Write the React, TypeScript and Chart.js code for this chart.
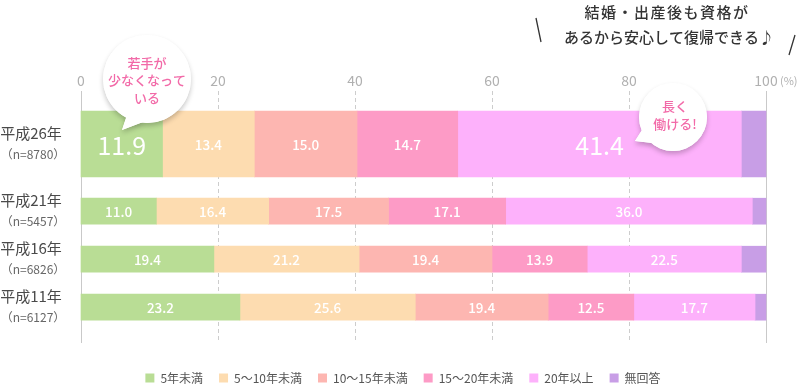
import React, { useEffect, useRef } from 'react';
import { Chart, registerables } from 'chart.js';

Chart.register(...registerables);

const FONT = "'Noto Sans CJK JP', 'Noto Sans', sans-serif";

// ---- data ----
const ROW_LABELS = ['平成26年', '平成21年', '平成16年', '平成11年'];
const ROW_COUNTS = ['（n=8780）', '（n=5457）', '（n=6826）', '（n=6127）'];
// vertical slot of each row on the (linear) row axis
const ROW_SLOTS = [0, 2.8, 4.8, 6.8];

const SERIES_LABELS = ['5年未満', '5〜10年未満', '10〜15年未満', '15〜20年未満', '20年以上', '無回答'];
const SERIES_COLORS = ['#b9dd95', '#fddcb0', '#fdb6b1', '#fd9bc6', '#fdb1fb', '#c89ee6'];

const UNDER_5 = [11.9, 11.0, 19.4, 23.2];
const FROM_5_TO_10 = [13.4, 16.4, 21.2, 25.6];
const FROM_10_TO_15 = [15.0, 17.5, 19.4, 19.4];
const FROM_15_TO_20 = [14.7, 17.1, 13.9, 12.5];
const OVER_20 = [41.4, 36.0, 22.5, 17.7];
const NO_ANSWER = [3.6, 2.0, 3.6, 1.6];

const X_MIN = 0;
const X_MAX = 100;
const X_STEP = 20;

const HEADLINE = ['結婚・出産後も資格が', 'あるから安心して復帰できる♪'];
const BUBBLE_YOUNG = ['若手が', '少なくなって', 'いる'];
const BUBBLE_LONG = ['長く', '働ける!'];

const SERIES_VALUES = [UNDER_5, FROM_5_TO_10, FROM_10_TO_15, FROM_15_TO_20, OVER_20, NO_ANSWER];

// ---- layout constants ----
const GRID_TOP = 91;
const GRID_BOTTOM = 343;
const PINK_TEXT = '#f26aa8';

function drawBubble(ctx: CanvasRenderingContext2D, cx: number, cy: number, r: number, tail: number[][]) {
  const shape = () => {
    ctx.beginPath();
    ctx.arc(cx, cy, r, 0, Math.PI * 2);
    ctx.fill();
    ctx.beginPath();
    ctx.moveTo(tail[0][0], tail[0][1]);
    ctx.lineTo(tail[1][0], tail[1][1]);
    ctx.lineTo(tail[2][0], tail[2][1]);
    ctx.closePath();
    ctx.fill();
  };
  ctx.save();
  ctx.shadowColor = 'rgba(0,0,0,0.22)';
  ctx.shadowBlur = 5;
  ctx.shadowOffsetY = 3;
  ctx.fillStyle = '#ffffff';
  shape();
  ctx.restore();
  ctx.save();
  ctx.fillStyle = '#ffffff';
  shape();
  ctx.restore();
}

const gridPlugin = {
  id: 'customGrid',
  beforeDatasetsDraw(chart: any) {
    const { ctx } = chart;
    const xs = chart.scales.x;
    ctx.save();
    xs.ticks.forEach((t: any) => {
      const p = Math.floor(xs.getPixelForValue(t.value)) + 0.5;
      const solid = t.value === X_MIN || t.value === X_MAX;
      ctx.strokeStyle = solid ? '#c9c9c9' : '#cdcdcd';
      ctx.lineWidth = 1;
      ctx.setLineDash(solid ? [] : [4, 3]);
      ctx.beginPath();
      ctx.moveTo(p, GRID_TOP);
      ctx.lineTo(p, GRID_BOTTOM);
      ctx.stroke();
    });
    ctx.restore();
  },
};

const labelPlugin = {
  id: 'valueLabels',
  afterDatasetsDraw(chart: any) {
    const { ctx } = chart;
    ctx.save();
    ctx.fillStyle = '#ffffff';
    ctx.textAlign = 'center';
    ctx.textBaseline = 'middle';
    chart.data.datasets.forEach((ds: any, di: number) => {
      const s = ds.seriesIndex;
      if (s === SERIES_LABELS.length - 1) return;
      const meta = chart.getDatasetMeta(di);
      meta.data.forEach((el: any, i: number) => {
        const v = ds.data[i].x;
        const big = ds.firstRow && (s === 0 || s === 4);
        ctx.font = big ? `400 25px ${FONT}` : `500 13.5px ${FONT}`;
        ctx.fillText(v.toFixed(1), (el.x + el.base) / 2, el.y + 1);
      });
    });
    ctx.restore();
  },
};

const decorPlugin = {
  id: 'decor',
  afterDraw(chart: any) {
    const { ctx } = chart;
    const xs = chart.scales.x;
    const ys = chart.scales.y;
    ctx.save();

    // row labels
    ctx.textAlign = 'center';
    ctx.textBaseline = 'middle';
    ROW_LABELS.forEach((lab, i) => {
      const y = ys.getPixelForValue(ROW_SLOTS[i]);
      ctx.fillStyle = '#4a4a4a';
      ctx.font = `400 15px ${FONT}`;
      ctx.fillText(lab, 31, y - 10.5);
      ctx.fillStyle = '#666666';
      ctx.font = `400 12px ${FONT}`;
      ctx.fillText(ROW_COUNTS[i], 33, y + 10.5);
    });

    // percent unit
    ctx.fillStyle = '#b0b0b0';
    ctx.font = `400 11px ${FONT}`;
    ctx.textAlign = 'left';
    ctx.fillText('(%)', xs.getPixelForValue(X_MAX) + 14, 81);

    // headline
    ctx.fillStyle = '#333333';
    ctx.textAlign = 'center';
    ctx.font = `500 15px ${FONT}`;
    (ctx as any).letterSpacing = '1.5px';
    ctx.fillText(HEADLINE[0], 667, 12);
    (ctx as any).letterSpacing = '0px';
    ctx.font = `500 15px ${FONT}`;
    ctx.fillText(HEADLINE[1], 669, 37);
    ctx.strokeStyle = '#333333';
    ctx.lineWidth = 1.3;
    ctx.beginPath();
    ctx.moveTo(536, 18);
    ctx.lineTo(541, 42);
    ctx.moveTo(795, 35);
    ctx.lineTo(789, 55);
    ctx.stroke();

    // bubbles
    drawBubble(ctx, 147, 79, 44, [[127, 115], [122, 130], [143, 122]]);
    drawBubble(ctx, 673, 117, 34, [[642, 130], [635, 141], [652, 143]]);
    ctx.fillStyle = PINK_TEXT;
    ctx.font = `500 13px ${FONT}`;
    ctx.textAlign = 'center';
    BUBBLE_YOUNG.forEach((t, i) => ctx.fillText(t, 147, 63 + i * 17.5));
    BUBBLE_LONG.forEach((t, i) => ctx.fillText(t, 675, 106 + i * 18));

    ctx.restore();
  },
};

export default function App() {
  const ref = useRef<HTMLCanvasElement>(null);

  useEffect(() => {
    if (!ref.current) return;
    Chart.defaults.font.family = FONT;

    const datasets: any[] = [];
    SERIES_VALUES.forEach((vals, s) => {
      datasets.push({
        label: SERIES_LABELS[s],
        data: [{ x: vals[0], y: ROW_SLOTS[0] }],
        backgroundColor: SERIES_COLORS[s],
        borderWidth: 0,
        barThickness: 66,
        clip: false,
        seriesIndex: s,
        firstRow: true,
      });
    });
    SERIES_VALUES.forEach((vals, s) => {
      datasets.push({
        label: SERIES_LABELS[s],
        data: vals.slice(1).map((v, i) => ({ x: v, y: ROW_SLOTS[i + 1] })),
        backgroundColor: SERIES_COLORS[s],
        borderWidth: 0,
        barThickness: 26,
        clip: false,
        seriesIndex: s,
        firstRow: false,
      });
    });

    const chart = new Chart(ref.current, {
      type: 'bar',
      data: { datasets },
      options: {
        indexAxis: 'y',
        animation: false,
        responsive: false,
        devicePixelRatio: 1,
        events: [],
        layout: { padding: { left: 40, right: 36, top: 70, bottom: -8 } },
        scales: {
          x: {
            type: 'linear',
            position: 'top',
            stacked: true,
            min: X_MIN,
            max: X_MAX,
            ticks: {
              stepSize: X_STEP,
              color: '#b0b0b0',
              font: { size: 14, family: FONT },
              padding: 2.6,
            },
            grid: { display: false, drawTicks: false },
            border: { display: false },
          },
          y: {
            type: 'linear',
            reverse: true,
            stacked: true,
            offset: false,
            min: -2.1667,
            max: 8.8333,
            ticks: { display: false },
            grid: { display: false, drawTicks: false },
            border: { display: false },
            afterFit: (s: any) => {
              s.width = 41;
            },
          },
        },
        plugins: {
          tooltip: { enabled: false },
          legend: {
            position: 'bottom',
            labels: {
              boxWidth: 9,
              boxHeight: 9,
              padding: 16,
              color: '#555555',
              font: { size: 12, family: FONT },
              filter: (item: any) => item.datasetIndex < SERIES_LABELS.length,
            },
          },
        },
      } as any,
      plugins: [gridPlugin, labelPlugin, decorPlugin],
    });

    return () => chart.destroy();
  }, []);

  return (
    <div style={{ position: 'absolute', left: 0, top: 0, width: 802, height: 386 }}>
      <canvas ref={ref} width={802} height={386} style={{ display: 'block' }} />
    </div>
  );
}
